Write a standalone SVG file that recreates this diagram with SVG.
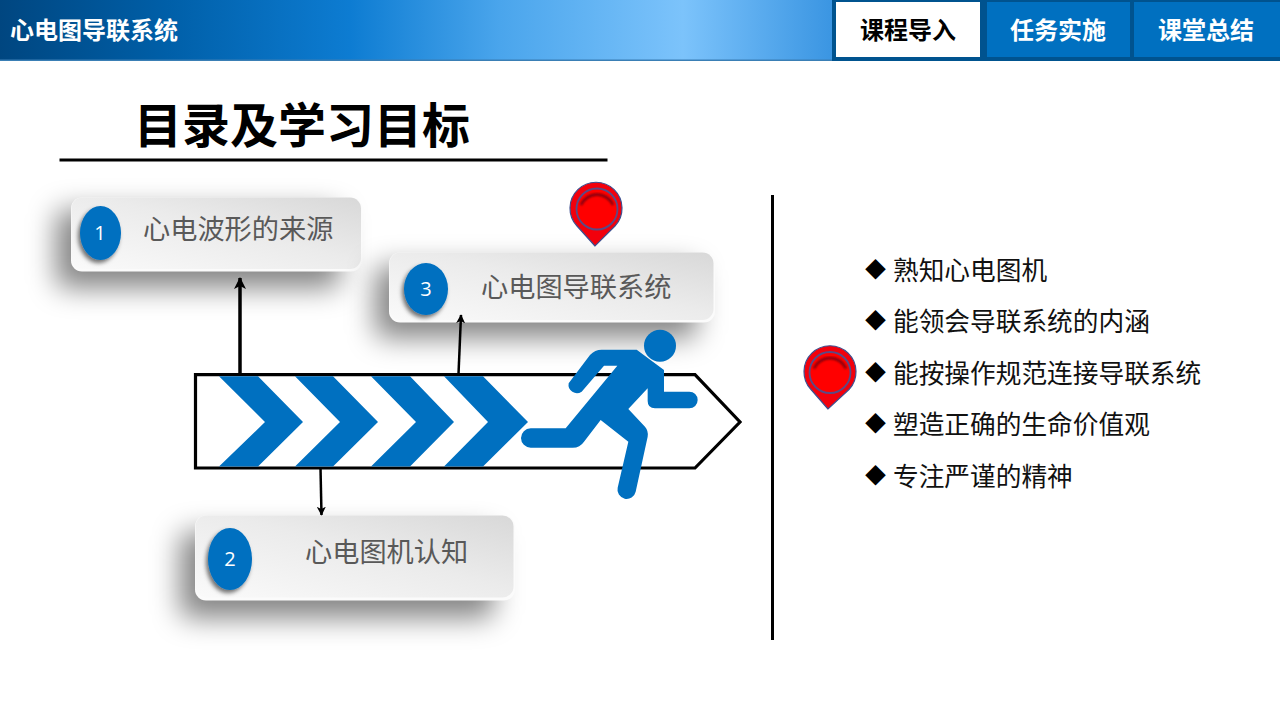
<svg xmlns="http://www.w3.org/2000/svg" width="1280" height="720" viewBox="0 0 1280 720">
<style>
.cjk{font-family:"Noto Sans CJK SC","Noto Sans",sans-serif}
.hd{font-size:24px;font-weight:700;text-anchor:middle}
.cardBase{fill:#fbfbfb}
.card{fill:url(#cardFill)}
.shadow{fill:#000;fill-opacity:.48;filter:url(#blur)}
.cardText{font-size:27.200px;fill:#595959}
.num{font-family:"Open Sans",sans-serif;font-size:20px;fill:#fff;text-anchor:middle}
.badge{fill:#0070c0;filter:url(#badgeShadow)}
.item{font-size:25.700px;fill:#111}
.bullet{font-size:21px;fill:#000;text-anchor:middle}
.chev{fill:#0070c0}
.conn{stroke:#000;fill:none}
.pinBody{fill:#f2000c;stroke:#3d4f8f;stroke-width:1.200}
.pinRing{fill:#f00;stroke:#5a4a85;stroke-width:1.800}
.pinTop{fill:none;stroke:#7a0010;stroke-width:2.500;filter:url(#small)}
</style>
<defs>
<linearGradient id="bar" x1="0" y1="0" x2="1" y2="0">
<stop offset="0" stop-color="#004680"/><stop offset=".2" stop-color="#005fa8"/><stop offset=".42" stop-color="#0d7cd2"/><stop offset=".6" stop-color="#4aa5ec"/><stop offset=".82" stop-color="#7cc3fb"/><stop offset="1" stop-color="#3a95e2"/>
</linearGradient>
<linearGradient id="cardFill" x1="0" y1="1" x2="1" y2="0">
<stop offset="0" stop-color="#fafafa"/><stop offset=".55" stop-color="#ebebeb"/><stop offset="1" stop-color="#d8d8d8"/>
</linearGradient>
<filter id="blur" x="-30%" y="-80%" width="160%" height="260%"><feGaussianBlur stdDeviation="14"/></filter>
<filter id="small" x="-20%" y="-20%" width="140%" height="140%"><feGaussianBlur stdDeviation="1"/></filter>
<filter id="badgeShadow" x="-40%" y="-40%" width="180%" height="180%"><feDropShadow dx="-2" dy="3" stdDeviation="2" flood-color="#000" flood-opacity=".55"/></filter>
<marker id="head" viewBox="0 0 12 12" refX="11" refY="6" markerWidth="12" markerHeight="12" markerUnits="userSpaceOnUse" orient="auto"><path d="M0 0 L12 6 L0 12 L3 6 Z" fill="#000"/></marker>
<marker id="headS" viewBox="0 0 12 12" refX="11" refY="6" markerWidth="9" markerHeight="9" markerUnits="userSpaceOnUse" orient="auto"><path d="M0 0 L12 6 L0 12 L3 6 Z" fill="#000"/></marker>
</defs>

<g id="header">
<rect x="0" y="0" width="833" height="60.500" fill="url(#bar)"/>
<rect x="0" y="59.500" width="833" height="1.500" fill="#3a7fb5"/>
<text class="cjk hd" x="94" y="38.500" fill="#fff">心电图导联系统</text>
</g>
<g id="tabs">
<rect x="832" y="0" width="448" height="61" fill="#00538f"/>
<g id="tab1"><rect x="836" y="2" width="144" height="55" fill="#fff"/><text class="cjk hd" x="908" y="38.500" fill="#000">课程导入</text></g>
<g id="tab2"><rect x="987" y="2" width="143" height="55" fill="#0070c0"/><text class="cjk hd" x="1058" y="38.500" fill="#fff">任务实施</text></g>
<g id="tab3"><rect x="1134" y="2" width="146" height="55" fill="#0070c0"/><text class="cjk hd" x="1206" y="38.500" fill="#fff">课堂总结</text></g>
</g>

<g id="title">
<text class="cjk" x="302" y="143" font-size="48" font-weight="700" text-anchor="middle" fill="#000">目录及学习目标</text>
<rect x="59.500" y="158.500" width="548" height="3" fill="#000"/>
</g>

<g id="card1">
<rect class="shadow" x="56" y="210" width="284" height="78" rx="10"/>
<rect class="cardBase" x="71" y="197.500" width="291" height="74" rx="11"/>
<rect class="card" x="71.500" y="197.500" width="289.500" height="71.500" rx="11"/>
<ellipse class="badge" cx="100.500" cy="233" rx="20.500" ry="27"/>
<text class="num" x="100" y="240">1</text>
<text class="cjk cardText" x="143" y="239">心电波形的来源</text>
</g>

<g id="card3">
<rect class="shadow" x="375" y="266" width="322" height="72" rx="10"/>
<rect class="cardBase" x="389" y="252.500" width="326" height="70" rx="11"/>
<rect class="card" x="389.500" y="252.500" width="324" height="67.500" rx="11"/>
<ellipse class="badge" cx="426" cy="289" rx="22" ry="26"/>
<text class="num" x="426" y="296">3</text>
<text class="cjk cardText" x="481" y="297">心电图导联系统</text>
</g>

<g id="card2">
<rect class="shadow" x="180" y="532" width="314" height="86" rx="10"/>
<rect class="cardBase" x="195" y="515.500" width="320" height="85" rx="11"/>
<rect class="card" x="195.500" y="515.500" width="318" height="82" rx="11"/>
<ellipse class="badge" cx="230" cy="559" rx="22" ry="31"/>
<text class="num" x="230" y="566">2</text>
<text class="cjk cardText" x="305" y="562">心电图机认知</text>
</g>

<g id="connectors">
<line class="conn" x1="240" y1="374" x2="240" y2="278" stroke-width="3.500" marker-end="url(#head)"/>
<line class="conn" x1="458.500" y1="374" x2="461" y2="315" stroke-width="2.500" marker-end="url(#headS)"/>
<line class="conn" x1="320.500" y1="468" x2="321.500" y2="515" stroke-width="2.500" marker-end="url(#headS)"/>
</g>

<g id="arrow">
<polygon points="195.500,374.700 695,374.700 740,422 695,468 195.500,468" fill="#fff" stroke="#000" stroke-width="3.200"/>
<polygon class="chev" points="219,376.300 258,376.300 303,422 258,466.500 219,466.500 265,422"/>
<polygon class="chev" points="295,376.300 333,376.300 378,422 333,466.500 295,466.500 340,422"/>
<polygon class="chev" points="371,376.300 410,376.300 454,422 410,466.500 371,466.500 416,422"/>
<polygon class="chev" points="444,376.300 483,376.300 528,422 483,466.500 444,466.500 488,422"/>
</g>

<g id="runner" fill="#0070c0">
<circle cx="660" cy="345.700" r="16"/>
<path transform="translate(380 175) scale(.33333)" d="M566 625 L630 540 Q645 524 665 524 L770 524 L852 585 L852 650 L928 650 A25 25 0 0 1 928 700 L825 700 Q803 700 803 678 L803 640 L745 702 L795 755 Q806 768 803 785 L767 950 A27 27 0 0 1 713 938 L745 800 L662 735 L612 800 Q600 818 578 818 L452 818 A29 29 0 0 1 452 760 L557 760 L712 572 L672 572 L605 650 A25 25 0 0 1 566 625 Z"/>
</g>

<g id="pin1">
<path class="pinBody" d="M595 246 L577 226 A26 26 0 1 1 615 226 Z"/>
<circle class="pinRing" cx="597" cy="209" r="20.500"/>
<path class="pinTop" d="M581 205 A17.500 17.500 0 0 1 613 205"/>
</g>
<g id="pin2">
<path class="pinBody" d="M828 409 L811 389.500 A26 26 0 1 1 849 389.500 Z"/>
<circle class="pinRing" cx="830" cy="372.500" r="20.500"/>
<path class="pinTop" d="M814 368.500 A17.500 17.500 0 0 1 846 368.500"/>
</g>

<g id="divider"><rect x="771" y="195" width="3" height="445" fill="#000"/></g>

<g id="goals">
<text class="cjk bullet" x="875.500" y="277">◆</text><text class="cjk item" x="893" y="280">熟知心电图机</text>
<text class="cjk bullet" x="875.500" y="328">◆</text><text class="cjk item" x="893" y="331">能领会导联系统的内涵</text>
<text class="cjk bullet" x="875.500" y="380">◆</text><text class="cjk item" x="893" y="383">能按操作规范连接导联系统</text>
<text class="cjk bullet" x="875.500" y="431">◆</text><text class="cjk item" x="893" y="434">塑造正确的生命价值观</text>
<text class="cjk bullet" x="875.500" y="483">◆</text><text class="cjk item" x="893" y="486">专注严谨的精神</text>
</g>
</svg>
